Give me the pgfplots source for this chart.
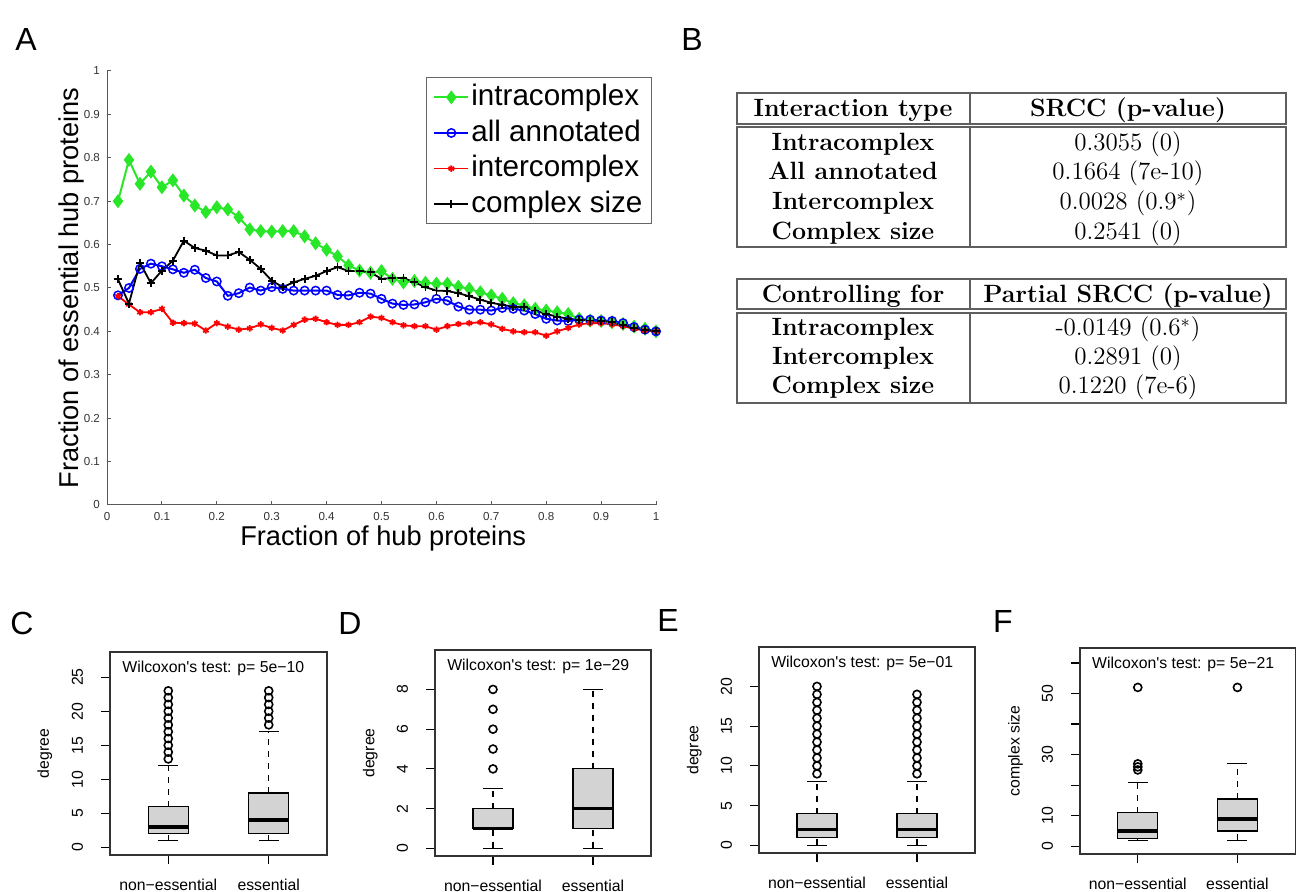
\documentclass[border=0pt]{standalone}
\usepackage{pgfplots}
\pgfplotsset{compat=1.18}
\usepackage{pgfplotstable}
\usepgfplotslibrary{statistics}
\usepackage{fontspec}
\newfontfamily\arial{Liberation Sans}
\definecolor{mgreen}{RGB}{40,230,40}
\definecolor{boxgray}{RGB}{211,211,211}
\definecolor{tabline}{RGB}{95,95,95}
\newcommand\tickA{\arial\fontsize{5.8}{7}\selectfont}
\newcommand\labA{\arial\fontsize{13.6}{16}\selectfont}
\newcommand\legA{\arial\fontsize{14.8}{17}\selectfont}
\newcommand\rfont{\arial\fontsize{7.9}{9.5}\selectfont}
\newcommand\panfont{\arial\fontsize{16}{19}\selectfont}
\newcommand\tabfont{\fontsize{12.5}{15}\selectfont}

% fraction of essential hubs vs fraction of hubs
\pgfplotstableread{
x    g     b     r     k
0.02 0.700 0.483 0.481 0.520
0.04 0.795 0.500 0.462 0.464
0.06 0.740 0.544 0.444 0.558
0.08 0.768 0.556 0.444 0.511
0.10 0.732 0.550 0.452 0.540
0.12 0.748 0.543 0.420 0.563
0.14 0.713 0.535 0.419 0.609
0.16 0.690 0.542 0.418 0.592
0.18 0.675 0.523 0.402 0.586
0.20 0.686 0.515 0.419 0.575
0.22 0.681 0.482 0.411 0.575
0.24 0.663 0.488 0.404 0.583
0.26 0.635 0.501 0.407 0.565
0.28 0.631 0.494 0.416 0.544
0.30 0.630 0.502 0.408 0.517
0.32 0.631 0.498 0.402 0.502
0.34 0.631 0.494 0.415 0.513
0.36 0.619 0.494 0.427 0.521
0.38 0.603 0.494 0.429 0.528
0.40 0.588 0.494 0.421 0.539
0.42 0.573 0.484 0.415 0.548
0.44 0.552 0.483 0.415 0.539
0.46 0.540 0.489 0.421 0.539
0.48 0.535 0.487 0.434 0.536
0.50 0.539 0.475 0.431 0.521
0.52 0.521 0.464 0.421 0.523
0.54 0.513 0.461 0.414 0.523
0.56 0.516 0.462 0.412 0.513
0.58 0.512 0.467 0.412 0.502
0.60 0.510 0.475 0.404 0.494
0.62 0.510 0.471 0.412 0.493
0.64 0.503 0.457 0.417 0.488
0.66 0.498 0.450 0.419 0.481
0.68 0.490 0.450 0.421 0.473
0.70 0.483 0.448 0.416 0.466
0.72 0.475 0.454 0.406 0.461
0.74 0.465 0.452 0.400 0.457
0.76 0.460 0.448 0.398 0.456
0.78 0.452 0.440 0.398 0.448
0.80 0.448 0.429 0.390 0.440
0.82 0.444 0.425 0.400 0.434
0.84 0.440 0.424 0.408 0.429
0.86 0.429 0.427 0.416 0.427
0.88 0.425 0.427 0.419 0.425
0.90 0.424 0.425 0.419 0.424
0.92 0.421 0.424 0.416 0.421
0.94 0.417 0.419 0.412 0.414
0.96 0.411 0.410 0.406 0.408
0.98 0.406 0.404 0.402 0.404
1.00 0.400 0.400 0.400 0.400
}\fractab

\pgfplotsset{
  rbox/.style={
    anchor=south west, scale only axis,
    xmin=0.42, xmax=2.58,
    xtick={1,2}, xticklabels={non−essential,essential},
    xtick pos=left, ytick pos=left,
    tick align=outside, major tick length=4.5pt,
    tick style={black, line width=0.6pt},
    axis line style={black!80, line width=0.7pt},
    tick label style={font=\rfont, black},
    xticklabel style={yshift=-4pt},
    yticklabel style={xshift=-5.5pt, rotate=90, anchor=south},
    /pgf/number format/assume math mode=true,
    ylabel style={font=\rfont, at={(axis description cs:-0.30,0.5)}, anchor=center},
    boxplot/draw direction=y,
    boxplot/box extend=0.4,
    boxplot/whisker extend=0.2,
    boxplot/draw/box/.code={%
      \draw[fill=boxgray, draw=black, line width=0.6pt, solid]
        (boxplot box cs:\pgfplotsboxplotvalue{lower quartile},0) rectangle
        (boxplot box cs:\pgfplotsboxplotvalue{upper quartile},1);},
    boxplot/draw/median/.code={%
      \draw[black, line width=1.8pt, solid]
        (boxplot box cs:\pgfplotsboxplotvalue{median},0) --
        (boxplot box cs:\pgfplotsboxplotvalue{median},1);},
    boxplot/draw/lower whisker/.code={%
      \draw[black, line width=0.6pt, dash pattern=on 3pt off 3pt]
        (boxplot cs:\pgfplotsboxplotvalue{lower whisker}) --
        (boxplot cs:\pgfplotsboxplotvalue{lower quartile});
      \draw[black, line width=0.6pt, solid]
        (boxplot whisker cs:\pgfplotsboxplotvalue{lower whisker},0) --
        (boxplot whisker cs:\pgfplotsboxplotvalue{lower whisker},1);},
    boxplot/draw/upper whisker/.code={%
      \draw[black, line width=0.6pt, dash pattern=on 3pt off 3pt]
        (boxplot cs:\pgfplotsboxplotvalue{upper quartile}) --
        (boxplot cs:\pgfplotsboxplotvalue{upper whisker});
      \draw[black, line width=0.6pt, solid]
        (boxplot whisker cs:\pgfplotsboxplotvalue{upper whisker},0) --
        (boxplot whisker cs:\pgfplotsboxplotvalue{upper whisker},1);},
  },
  outl/.style={black, mark=o, mark size=2pt, mark options={solid, line width=0.8pt}},
}

\begin{document}
\begin{tikzpicture}
\useasboundingbox (0,0) rectangle (648pt,446pt);

% ---------------- panel A
\begin{axis}[
  at={(53.5pt,193.5pt)}, anchor=south west,
  scale only axis, width=274.5pt, height=217pt,
  xmin=0, xmax=1, ymin=0, ymax=1,
  axis x line*=bottom, axis y line*=left,
  xtick={0,0.1,0.2,0.3,0.4,0.5,0.6,0.7,0.8,0.9,1},
  ytick={0,0.1,0.2,0.3,0.4,0.5,0.6,0.7,0.8,0.9,1},
  tick align=inside, major tick length=2pt,
  axis line style={black!65, line width=0.5pt},
  tick style={black!65, line width=0.5pt},
  tick label style={font=\tickA, black!80},
  /pgf/number format/assume math mode=true,
  xlabel={Fraction of hub proteins},
  ylabel={Fraction of essential hub proteins},
  label style={font=\labA},
  xlabel style={at={(axis description cs:0.503,-0.0945)}, anchor=base},
  ylabel style={at={(axis description cs:-0.0528,0.5)}, anchor=base},
  legend style={at={(axis description cs:0.9927,0.986)}, anchor=north east,
    draw=black!60, line width=0.5pt, font=\legA, cells={anchor=west},
    inner xsep=3.5pt, inner ysep=1pt, row sep=0pt,
    nodes={inner sep=1pt, text height=12pt, text depth=3.8pt}},
  clip=false,
]
\addplot[mgreen, line width=1pt, mark=diamond*, mark size=2.7pt,
  mark options={fill=mgreen, solid}] table[x=x, y=g] {\fractab};
\addplot[blue, line width=1pt, mark=o, mark size=2.1pt,
  mark options={solid, line width=0.75pt}] table[x=x, y=b] {\fractab};
\addplot[red, line width=0.9pt, mark=asterisk, mark size=1.6pt,
  mark options={solid}] table[x=x, y=r] {\fractab};
\addplot[black, line width=0.9pt, mark=+, mark size=2pt,
  mark options={solid}] table[x=x, y=k] {\fractab};
\legend{intracomplex, all annotated, intercomplex, complex size}
\end{axis}

% ---------------- panel C
\begin{axis}[rbox, at={(55pt,18.5pt)}, width=108.5pt, height=101.5pt,
  ymin=-1.1, ymax=28.7, ytick={0,5,10,15,20,25}, ylabel={degree}]
\addplot[outl, boxplot prepared={draw position=1, lower whisker=1,
  lower quartile=2, median=3, upper quartile=6, upper whisker=12}]
  table[row sep=\\, y index=0] {13\\14\\15\\16\\17\\18\\19\\20\\21\\22\\23\\};
\addplot[outl, boxplot prepared={draw position=2, lower whisker=1,
  lower quartile=2, median=4, upper quartile=8, upper whisker=17}]
  table[row sep=\\, y index=0] {18\\19\\20\\21\\22\\23\\};
\node[anchor=west, font=\rfont, inner xsep=0pt] at (axis description cs:0.055,0.918)
  {Wilcoxon's test: p= 5e−10};
\end{axis}

% ---------------- panel D
\begin{axis}[rbox, at={(217.5pt,18pt)}, width=108pt, height=103pt,
  ymin=-0.384, ymax=9.984, ytick={0,2,4,6,8}, ylabel={degree}]
\addplot[outl, boxplot prepared={draw position=1, lower whisker=0,
  lower quartile=1, median=1, upper quartile=2, upper whisker=3}]
  table[row sep=\\, y index=0] {4\\5\\6\\7\\8\\};
\addplot[outl, boxplot prepared={draw position=2, lower whisker=0,
  lower quartile=1, median=2, upper quartile=4, upper whisker=8}]
  coordinates {};
\node[anchor=west, font=\rfont, inner xsep=0pt] at (axis description cs:0.055,0.918)
  {Wilcoxon's test: p= 1e−29};
\end{axis}

% ---------------- panel E
\begin{axis}[rbox, at={(379.5pt,19.5pt)}, width=108pt, height=103pt,
  ymin=-0.96, ymax=24.96, ytick={0,5,10,15,20}, ylabel={degree}]
\addplot[outl, boxplot prepared={draw position=1, lower whisker=0,
  lower quartile=1, median=2, upper quartile=4, upper whisker=8}]
  table[row sep=\\, y index=0] {9\\10\\11\\12\\13\\14\\15\\16\\17\\18\\19\\20\\};
\addplot[outl, boxplot prepared={draw position=2, lower whisker=0,
  lower quartile=1, median=2, upper quartile=4, upper whisker=8}]
  table[row sep=\\, y index=0] {9\\10\\11\\12\\13\\14\\15\\16\\17\\18\\19\\};
\node[anchor=west, font=\rfont, inner xsep=0pt] at (axis description cs:0.055,0.918)
  {Wilcoxon's test: p= 5e−01};
\end{axis}

% ---------------- panel F
\begin{axis}[rbox, at={(540pt,19pt)}, width=107.6pt, height=103pt,
  ymin=-2.5, ymax=64.9, ytick={0,10,20,30,40,50,60},
  yticklabels={0,10,{},30,{},50,{}}, ylabel={complex size}]
\addplot[outl, boxplot prepared={draw position=1, lower whisker=2,
  lower quartile=2.5, median=5, upper quartile=11, upper whisker=21}]
  table[row sep=\\, y index=0] {25\\26\\27\\52\\};
\addplot[outl, boxplot prepared={draw position=2, lower whisker=2,
  lower quartile=5, median=9, upper quartile=15.5, upper whisker=27}]
  table[row sep=\\, y index=0] {52\\};
\node[anchor=west, font=\rfont, inner xsep=0pt] at (axis description cs:0.055,0.918)
  {Wilcoxon's test: p= 5e−21};
\end{axis}

% ---------------- panel letters and tables (image pixel coordinates)
\begin{scope}[x=0.5pt, y=-0.5pt, shift={(0pt,446pt)}]
  \node[font=\panfont, anchor=base] at (26,51) {A};
  \node[font=\panfont, anchor=base] at (692,51) {B};
  \node[font=\panfont, anchor=base] at (22,635) {C};
  \node[font=\panfont, anchor=base] at (350,635) {D};
  \node[font=\panfont, anchor=base] at (668,632) {E};
  \node[font=\panfont, anchor=base] at (1003,633) {F};

  \begin{scope}[draw=tabline, line width=0.7pt]
    \draw (737,93) rectangle (1286,124);
    \draw (970,93) -- (970,124);
    \draw (737,127) rectangle (1286,247);
    \draw (970,127) -- (970,247);
    \draw (737,279) rectangle (1286,309);
    \draw (970,279) -- (970,309);
    \draw (737,313) rectangle (1286,403);
    \draw (970,313) -- (970,403);
  \end{scope}
  \begin{scope}[every node/.style={font=\tabfont, anchor=base, inner sep=0pt}]
    \node[font=\tabfont\bfseries] at (853,117) {Interaction type};
    \node[font=\tabfont\bfseries] at (1128,117) {SRCC (p-value)};
    \node[font=\tabfont\bfseries] at (853,151) {Intracomplex};
    \node[font=\tabfont\bfseries] at (853,180) {All annotated};
    \node[font=\tabfont\bfseries] at (853,210) {Intercomplex};
    \node[font=\tabfont\bfseries] at (853,240) {Complex size};
    \node at (1128,151) {0.3055 (0)};
    \node at (1128,180) {0.1664 (7e-10)};
    \node at (1128,210) {0.0028 (0.9$^*$)};
    \node at (1128,240) {0.2541 (0)};
    \node[font=\tabfont\bfseries] at (853,303) {Controlling for};
    \node[font=\tabfont\bfseries] at (1128,303) {Partial SRCC (p-value)};
    \node[font=\tabfont\bfseries] at (853,336) {Intracomplex};
    \node[font=\tabfont\bfseries] at (853,365) {Intercomplex};
    \node[font=\tabfont\bfseries] at (853,394) {Complex size};
    \node at (1128,336) {-0.0149 (0.6$^*$)};
    \node at (1128,365) {0.2891 (0)};
    \node at (1128,394) {0.1220 (7e-6)};
  \end{scope}
\end{scope}
\end{tikzpicture}
\end{document}
